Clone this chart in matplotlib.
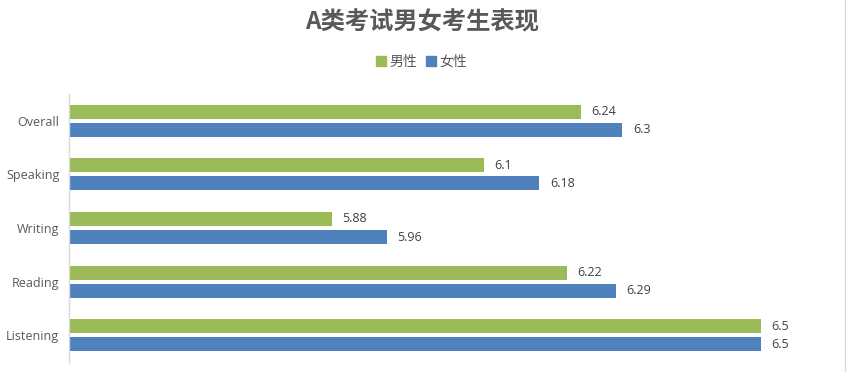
import matplotlib
matplotlib.use("Agg")
import matplotlib.pyplot as plt
from matplotlib.lines import Line2D
import numpy as np

plt.rcParams['font.family'] = ['Open Sans', 'Noto Sans CJK SC', 'DejaVu Sans']

categories = ["Overall", "Speaking", "Writing", "Reading", "Listening"]
male = [6.24, 6.1, 5.88, 6.22, 6.5]
female = [6.3, 6.18, 5.96, 6.29, 6.5]
series_names = ["男性", "女性"]
title = "A类考试男女考生表现"

green = "#9BBB59"
blue = "#4F81BD"
text_color = "#595959"

fig = plt.figure(figsize=(8.46, 3.72), dpi=100)
ax = fig.add_axes([69/846, 10/372, (830-69)/846, (362-94)/372])

y = np.arange(len(categories))
h = 0.26
off = 0.168
ax.barh(y - off, male, height=h, color=green, label=series_names[0])
ax.barh(y + off, female, height=h, color=blue, label=series_names[1])

for yi, v in zip(y, male):
    ax.text(v + 0.015, yi - off, f"{v:g}", va="center", ha="left", fontsize=9, color="#404040")
for yi, v in zip(y, female):
    ax.text(v + 0.015, yi + off, f"{v:g}", va="center", ha="left", fontsize=9, color="#404040")

ax.set_xlim(5.5, 6.6)
ax.set_ylim(len(categories) - 0.5, -0.5)
ax.set_yticks(y)
ax.set_yticklabels(categories, fontsize=9, color=text_color)
ax.tick_params(axis="y", length=0, pad=7)
ax.set_xticks([])
for s in ["top", "right", "bottom"]:
    ax.spines[s].set_visible(False)
ax.spines["left"].set_color("#D9D9D9")
ax.spines["left"].set_linewidth(1)

fig.text(422/846, 1 - 22/372, title, ha="center", va="center", fontsize=17.5,
         fontweight="bold", color=text_color, family=['Noto Sans CJK SC', 'DejaVu Sans'])

handles = [Line2D([], [], marker="s", linestyle="none", color=green, markersize=7),
           Line2D([], [], marker="s", linestyle="none", color=blue, markersize=7)]
leg = fig.legend(handles, series_names, loc="center", bbox_to_anchor=(421/846, 1 - 62/372),
                 ncol=2, frameon=False, handletextpad=0.1, columnspacing=0.5,
                 handlelength=1.0, prop={'family': ['Noto Sans CJK SC', 'DejaVu Sans'], 'size': 10})
for t in leg.get_texts():
    t.set_color(text_color)

fig.add_artist(Line2D([845/846, 845/846], [0, 1], color="#D9D9D9", linewidth=1, transform=fig.transFigure))

fig.savefig("out.png", dpi=100)
